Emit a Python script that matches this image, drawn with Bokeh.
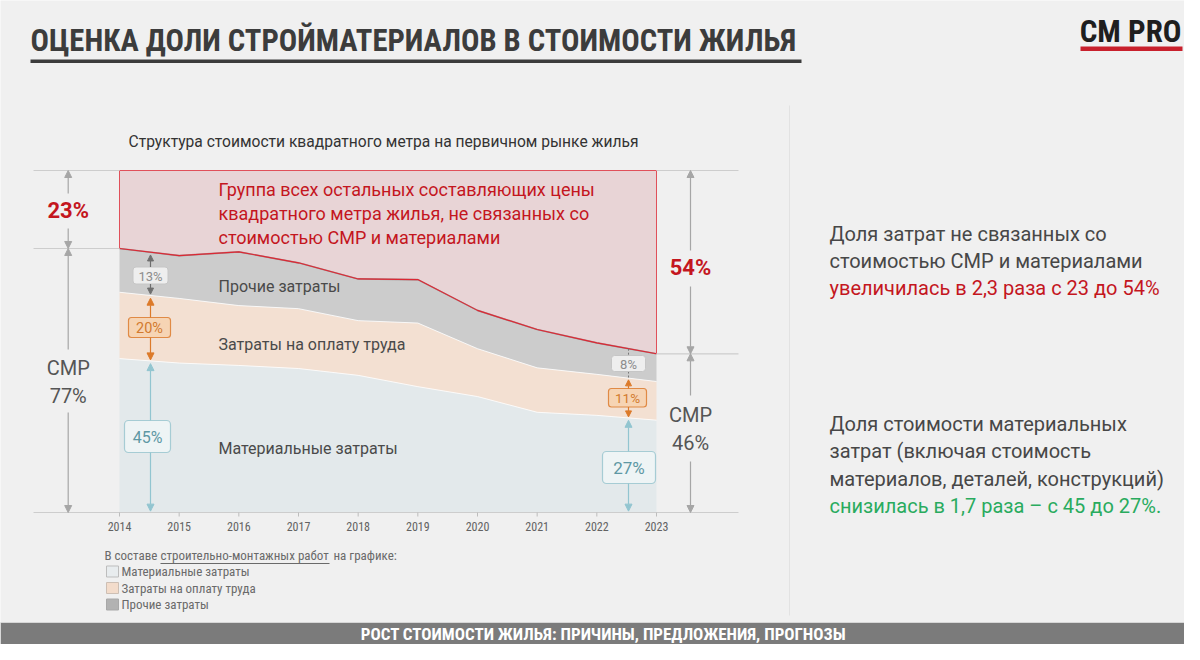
import numpy as np
from bokeh.plotting import figure
from bokeh.models import Range1d, Arrow, NormalHead, ColumnDataSource
from bokeh.core.properties import value
from bokeh.embed import file_html
from bokeh.resources import INLINE

# ---------------- data ----------------
years = [2014, 2015, 2016, 2017, 2018, 2019, 2020, 2021, 2022, 2023]
year_labels = ["2014", "2015", "2016", "2017", "2018", "2019", "2020", "2021", "2022", "2023"]
materials = [45.0, 43.7, 43.0, 42.1, 40.1, 36.8, 33.9, 29.3, 28.4, 27.0]
labor = [19.4, 18.9, 17.5, 17.5, 16.0, 18.6, 14.0, 13.0, 12.0, 11.3]
other = [12.8, 12.5, 15.7, 13.4, 12.2, 12.7, 11.2, 11.2, 9.2, 8.1]
rest = [22.8, 24.9, 23.8, 27.0, 31.7, 31.9, 40.9, 46.5, 50.4, 53.6]
series_names = ["Материальные затраты", "Затраты на оплату труда", "Прочие затраты"]
start_labels = ["45%", "20%", "13%"]
end_labels = ["27%", "11%", "8%"]
rest_start_label = "23%"
rest_end_label = "54%"
smr_start_label = ["СМР", "77%"]
smr_end_label = ["СМР", "46%"]

title = "ОЦЕНКА ДОЛИ СТРОЙМАТЕРИАЛОВ В СТОИМОСТИ ЖИЛЬЯ"
brand = "CM PRO"
subtitle = "Структура стоимости квадратного метра на первичном рынке жилья"
rest_text = ["Группа всех остальных составляющих цены",
             "квадратного метра жилья, не связанных со",
             "стоимостью СМР и материалами"]
note1 = ["Доля затрат не связанных со", "стоимостью СМР и материалами"]
note1_hl = "увеличилась в 2,3 раза с 23 до 54%"
note2 = ["Доля стоимости материальных", "затрат (включая стоимость", "материалов, деталей, конструкций)"]
note2_hl = "снизилась в 1,7 раза – с 45 до 27%."
legend_title = ["В составе", "строительно-монтажных работ", "на графике:"]
footer = "РОСТ СТОИМОСТИ ЖИЛЬЯ: ПРИЧИНЫ, ПРЕДЛОЖЕНИЯ, ПРОГНОЗЫ"

# ---------------- styling ----------------
BG = "#f0f0f0"
C_MAT = "#e3e9eb"
C_LAB = "#f3e0d2"
C_OTH = "#cccccc"
C_REST = "#e8d4d6"
RED_LINE = "#dc2834"
RED_TXT = "#c4161e"
GREEN = "#29ab5e"
GREY_ARR = "#a6a6a6"
ROBOTO = "Roboto"
NARROW = "Liberation Sans Narrow, Roboto Condensed, Roboto"

# pixel helpers (layout only)
PX0, PXY = 119.0, (656.0 - 119.0) / 9.0
PY0, PYP = 512.0, 3.42
W, H = 1184, 644


def X(px):
    return 2014 + (px - PX0) / PXY


def Y(py):
    return (PY0 - py) / PYP


p = figure(width=W, height=H, x_range=Range1d(X(0), X(W)), y_range=Range1d(Y(H), Y(0)),
           toolbar_location=None, output_backend="svg", min_border=0,
           x_axis_location=None, y_axis_location=None,
           background_fill_color=BG, border_fill_color=BG, outline_line_color=None)
p.grid.visible = False


def T(px, py, s, size, color, font=ROBOTO, bold=False, align="left", baseline="middle"):
    p.text(x=[X(px)], y=[Y(py)], text=[s], text_font=value(font), text_font_size=f"{size}px",
           text_color=color, text_font_style="bold" if bold else "normal",
           text_align=align, text_baseline=baseline)


def R(x0, x1, y0, y1, fill, line=None, lw=1.0, radius=0):
    p.quad(left=X(x0), right=X(x1), top=Y(y0), bottom=Y(y1), fill_color=fill,
           line_color=line, line_width=lw, border_radius=radius)


def A(xd, ys, ye, color, size=7, lw=1.2):
    p.add_layout(Arrow(end=NormalHead(size=size, fill_color=color, line_color=color, line_width=1),
                       x_start=xd, y_start=ys, x_end=xd, y_end=ye, line_color=color, line_width=lw))


# ---------------- header ----------------
T(30, 40, title, 30.6, "#3c3c3c", NARROW, bold=True)
R(30, 801, 59, 62.5, "#3c3c3c")
T(1181, 31, brand, 31, "#1e1e1e", NARROW, bold=True, align="right")
R(1080, 1182, 46, 50.5, "#c8202c")
p.segment(x0=X(789), y0=Y(105), x1=X(789), y1=Y(615), line_color="#e2e2e2", line_width=1)

T(128, 141, subtitle, 15.6, "#333333")

# ---------------- stacked chart ----------------
src = ColumnDataSource(dict(year=years, materials=materials, labor=labor, other=other, rest=rest))
p.varea_stack(stackers=["materials", "labor", "other", "rest"], x="year",
              color=[C_MAT, C_LAB, C_OTH, C_REST], source=src)

ml = [m + l for m, l in zip(materials, labor)]
tot = [m + l + o for m, l, o in zip(materials, labor, other)]

p.line(years, materials, line_color="white", line_width=1, line_alpha=0.8)
p.line(years, ml, line_color="white", line_width=1, line_alpha=0.8)
p.line(years, tot, line_color="#5a2a2e", line_width=1.6, line_alpha=0.4)
p.line(years, tot, line_color=RED_LINE, line_width=1.1)
p.line([years[0], years[0], years[-1], years[-1]], [tot[0], 100, 100, tot[-1]],
       line_color="#e0505a", line_width=1)

# reference lines
LC = "#cdcdcd"
p.segment(x0=X(33), y0=0, x1=X(738), y1=0, line_color=LC, line_width=1.2)
p.segment(x0=[X(33), X(656)], y0=[100, 100], x1=[X(119), X(738)], y1=[100, 100], line_color=LC, line_width=1.2)
p.segment(x0=X(33), y0=tot[0], x1=X(119), y1=tot[0], line_color=LC, line_width=1.2)
p.segment(x0=X(656), y0=tot[-1], x1=X(738), y1=tot[-1], line_color=LC, line_width=1.2)

# x ticks and labels
p.segment(x0=years, y0=[0] * len(years), x1=years, y1=[Y(516)] * len(years), line_color="#bdbdbd")
p.text(x=years, y=[Y(526)] * len(years), text=year_labels, text_font=value(NARROW),
       text_font_size="12px", text_color="#626262", text_align="center", text_baseline="middle")

# in-chart labels
for i, s in enumerate(rest_text):
    T(218, 189 + 24 * i, s, 18, RED_TXT)
T(218, 286, series_names[2], 16, "#4a4a4a")
T(218, 344, series_names[1], 16, "#4a4a4a")
T(218, 448, series_names[0], 16, "#4a4a4a")

# margin arrows (left)
xL = X(67.7)
A(xL, Y(193), 100, GREY_ARR)
A(xL, Y(228), tot[0], GREY_ARR)
A(xL, Y(349), tot[0], GREY_ARR)
A(xL, Y(412), 0, GREY_ARR)
T(67.7, 210, rest_start_label, 22, RED_TXT, bold=True, align="center")
T(67.7, 367, smr_start_label[0], 20, "#555555", align="center")
T(67.7, 395, smr_start_label[1], 20, "#555555", align="center")

# margin arrows (right)
xR = X(690)
A(xR, Y(250), 100, GREY_ARR)
A(xR, Y(286), tot[-1], GREY_ARR)
A(xR, Y(395), tot[-1], GREY_ARR)
A(xR, Y(461), 0, GREY_ARR)
T(690, 267, rest_end_label, 22, RED_TXT, bold=True, align="center")
T(690, 414, smr_end_label[0], 20, "#555555", align="center")
T(690, 442, smr_end_label[1], 20, "#555555", align="center")

# inner value markers
G_ARR, O_ARR, B_ARR = "#6e6e6e", "#dc7a2a", "#92c5d0"
G_BOX, O_BOX, B_BOX = ("#eeeeee", "#c6c6c6", "#8c8c8c"), ("#f6d4b4", "#e08a45", "#d27a2e"), ("#eef4f5", "#a6ccd4", "#5e98a4")

xa = X(150)
ta, mla, ma = (float(np.interp(xa, years, s)) for s in (tot, ml, materials))
A(xa, Y(266.5), ta - 0.8, G_ARR, size=6)
A(xa, Y(283.5), mla + 0.4, G_ARR, size=6)
A(xa, Y(317), mla - 0.8, O_ARR)
A(xa, Y(337), ma + 0.3, O_ARR)
A(xa, Y(420), ma - 0.8, B_ARR)
A(xa, Y(452), 0.4, B_ARR)
R(132.5, 167.5, 266.5, 283.5, G_BOX[0], G_BOX[1], 1, 3)
T(150, 275.5, start_labels[2], 13, G_BOX[2], align="center")
R(128, 170, 317, 337, O_BOX[0], O_BOX[1], 1.2, 3)
T(149, 327.5, start_labels[1], 14.5, O_BOX[2], align="center")
R(124, 170, 420, 452, B_BOX[0], B_BOX[1], 1.2, 4)
T(147, 436.5, start_labels[0], 16, B_BOX[2], align="center")

xb = X(628)
tb, mlb, mb = (float(np.interp(xb, years, s)) for s in (tot, ml, materials))
p.segment(x0=[xb, xb], y0=[tb, Y(371)], x1=[xb, xb], y1=[Y(355), mlb], line_color="#777777",
          line_width=1, line_dash="2 2")
A(xb, Y(388), mlb - 0.5, O_ARR, size=6)
A(xb, Y(406.5), mb + 0.3, O_ARR, size=6)
A(xb, Y(451), mb - 0.7, B_ARR)
A(xb, Y(483), 0.4, B_ARR)
R(611, 645, 355, 371, G_BOX[0], G_BOX[1], 1, 3)
T(628, 363.5, end_labels[2], 13, G_BOX[2], align="center")
R(608, 646, 388, 406.5, O_BOX[0], O_BOX[1], 1.2, 3)
T(627, 397.5, end_labels[1], 13.5, O_BOX[2], align="center")
R(602, 655, 451, 483, B_BOX[0], B_BOX[1], 1.2, 4)
T(628.5, 467.5, end_labels[0], 17, B_BOX[2], align="center")

# ---------------- legend ----------------
LG = "#6a6a6a"
T(104, 555, legend_title[0], 13, LG, NARROW)
T(160, 555, legend_title[1], 13, LG, NARROW)
T(333, 555, legend_title[2], 13, LG, NARROW)
p.segment(x0=X(160), y0=Y(563), x1=X(329), y1=Y(563), line_color=LG, line_width=1)
leg_fill = [("#e8ecee", "#bdbdbd"), ("#f3dccb", "#cdbfb4"), ("#b2b2b2", "#a8a8a8")]
for i, (name, (fc, lc)) in enumerate(zip(series_names, leg_fill)):
    cy = 571 + 16.5 * i
    R(106, 118, cy - 5.5, cy + 5.5, fc, lc, 1)
    T(121, cy, name, 13, LG, NARROW)

# ---------------- right notes ----------------
for i, s in enumerate(note1):
    T(829, 233 + 27 * i, s, 20, "#474747")
T(829, 287, note1_hl, 20, RED_TXT)
for i, s in enumerate(note2):
    T(829, 423 + 27.5 * i, s, 20, "#474747")
T(829, 505.5, note2_hl, 20, GREEN)

# ---------------- footer ----------------
R(0, W, 622, H, "#7b7b7b")
p.segment(x0=X(0), y0=Y(622), x1=X(W), y1=Y(622), line_color="#d6d6d6", line_width=1)
T(603, 633.5, footer, 17, "white", NARROW, bold=True, align="center")

open("out.html", "w").write(file_html(p, INLINE))
